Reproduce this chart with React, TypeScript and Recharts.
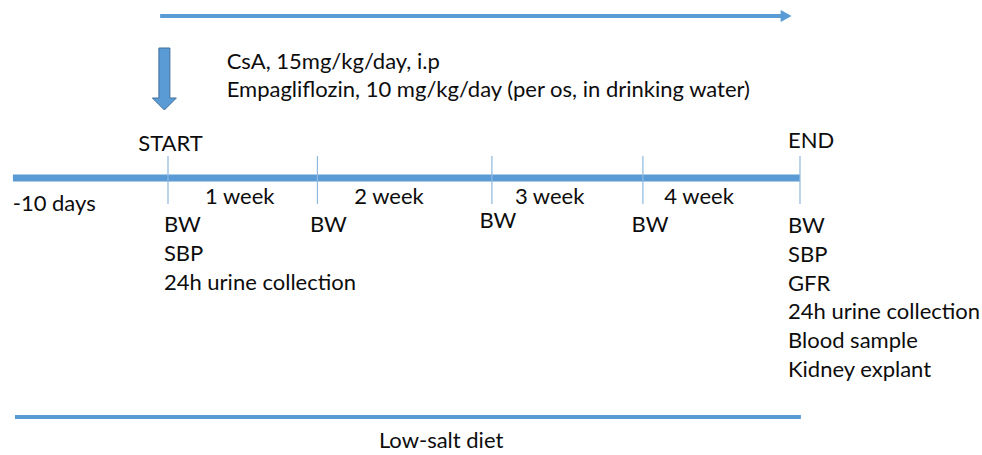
import { ComposedChart, ReferenceLine, Scatter, XAxis, YAxis } from 'recharts';

// Positions along the timeline, in days from START (the drawing is not to scale,
// so the values are read off the picture rather than taken from the labels).
const axisStartDay = -6.87;
const markerDays = [0, 6.62, 14.35, 21.04, 28];
const markerNames = ['START', 'END'];
const markerNameDays = [-1.32, 27.47];
const periodLabels = ['-10 days', '1 week', '2 week', '3 week', '4 week'];
const periodLabelDays = [-6.88, 1.64, 8.25, 15.37, 21.99];
const treatmentDays = [-0.35, 27.63];
const treatmentLines = ['CsA, 15mg/kg/day, i.p', 'Empagliflozin, 10 mg/kg/day (per os, in drinking water)'];
const measurementDays = [-0.18, 6.29, 13.8, 20.54, 27.47];
const measurements = [
  ['BW', 'SBP', '24h urine collection'],
  ['BW'],
  ['BW'],
  ['BW'],
  ['BW', 'SBP', 'GFR', '24h urine collection', 'Blood sample', 'Kidney explant'],
];
const dietDays = [-6.78, 28.04];
const dietLabel = 'Low-salt diet';
const dietLabelDay = 12.1;

// layout (vertical rows, in chart pixels from the top)
const W = 982;
const H = 455;
const PX_PER_DAY = 22.571;
const X_MIN = -168 / PX_PER_DAY;
const X_MAX = (W - 168) / PX_PER_DAY;
const ARROW_Y = 16;
const DOWN_TOP = 48;
const DOWN_TIP = 110;
const TREAT_Y = [69, 97];
const NAME_Y = [151, 148];
const AXIS_Y = 178;
const TICK_TOP = 156;
const TICK_BOTTOM = 204;
const PERIOD_Y = [211, 204, 204, 204, 204];
const MEAS_Y = 232;
const MEAS_STEP = 28.8;
const MEAS_SHIFT = [0, 0, -4, 0, 1];
const DIET_Y = 417;
const DIET_LABEL_Y = 448;

const BLUE = '#5B9BD5';
const FONT = 'Lato, "Liberation Sans", sans-serif';
const FONT_SIZE = 22;

type TextPoint = { x: number; y: number; text: string; anchor?: 'start' | 'middle' };

const textPoints: TextPoint[] = [
  ...treatmentLines.map((t, i) => ({ x: treatmentDays[0] + 2.95, y: TREAT_Y[i], text: t })),
  ...markerNames.map((t, i) => ({ x: markerNameDays[i], y: NAME_Y[i], text: t })),
  ...periodLabels.map((t, i) => ({ x: periodLabelDays[i], y: PERIOD_Y[i], text: t })),
  ...measurements.flatMap((col, i) =>
    col.map((t, j) => ({ x: measurementDays[i], y: MEAS_Y + MEAS_SHIFT[i] + j * MEAS_STEP, text: t })),
  ),
  { x: dietLabelDay, y: DIET_LABEL_Y, text: dietLabel, anchor: 'middle' },
];

function TextMark(props: any) {
  const { cx, cy, payload } = props;
  return (
    <text x={cx} y={cy} fill="#0d0d0d" fontFamily={FONT} fontSize={FONT_SIZE} textAnchor={payload.anchor ?? 'start'}>
      {payload.text}
    </text>
  );
}

function ArrowLine(props: any) {
  const { x1, y1, x2, y2 } = props;
  return (
    <g>
      <line x1={x1} y1={y1} x2={x2 - 10} y2={y2} stroke={BLUE} strokeWidth={4} />
      <polygon points={`${x2},${y2} ${x2 - 11},${y2 - 6} ${x2 - 11},${y2 + 6}`} fill={BLUE} />
    </g>
  );
}

function BlockArrow(props: any) {
  const { x1, y1, y2 } = props;
  const head = 12;
  const shaft = 5.5;
  const wing = 12;
  const pts = [
    [x1 - shaft, y1],
    [x1 + shaft, y1],
    [x1 + shaft, y2 - head],
    [x1 + wing, y2 - head],
    [x1, y2],
    [x1 - wing, y2 - head],
    [x1 - shaft, y2 - head],
  ]
    .map((p) => p.join(','))
    .join(' ');
  return <polygon points={pts} fill={BLUE} stroke="#41719C" strokeWidth={1} />;
}

export default function App() {
  return (
    <div style={{ position: 'absolute', left: 0, top: 0, width: W, height: H, background: '#fff' }}>
      <ComposedChart width={W} height={H} margin={{ top: 0, right: 0, bottom: 0, left: 0 }}>
        <XAxis type="number" dataKey="x" domain={[X_MIN, X_MAX]} hide allowDataOverflow />
        <YAxis type="number" dataKey="y" domain={[0, H]} reversed hide allowDataOverflow />

        {/* treatment period arrow */}
        <ReferenceLine
          segment={[{ x: treatmentDays[0], y: ARROW_Y }, { x: treatmentDays[1], y: ARROW_Y }]}
          shape={ArrowLine}
          ifOverflow="visible"
        />
        {/* start of treatment */}
        <ReferenceLine
          segment={[{ x: markerDays[0] - 0.16, y: DOWN_TOP }, { x: markerDays[0] - 0.16, y: DOWN_TIP }]}
          shape={BlockArrow}
          ifOverflow="visible"
        />

        {/* main timeline */}
        <ReferenceLine
          segment={[{ x: axisStartDay, y: AXIS_Y }, { x: markerDays[4], y: AXIS_Y }]}
          stroke={BLUE}
          strokeWidth={7}
          ifOverflow="visible"
        />
        {markerDays.map((d) => (
          <ReferenceLine
            key={d}
            segment={[{ x: d, y: TICK_TOP }, { x: d, y: TICK_BOTTOM }]}
            stroke="#8DB8E2"
            strokeWidth={1.2}
            ifOverflow="visible"
          />
        ))}

        {/* diet */}
        <ReferenceLine
          segment={[{ x: dietDays[0], y: DIET_Y }, { x: dietDays[1], y: DIET_Y }]}
          stroke={BLUE}
          strokeWidth={4}
          ifOverflow="visible"
        />

        <Scatter data={textPoints} dataKey="y" shape={TextMark} isAnimationActive={false} />
      </ComposedChart>
    </div>
  );
}
